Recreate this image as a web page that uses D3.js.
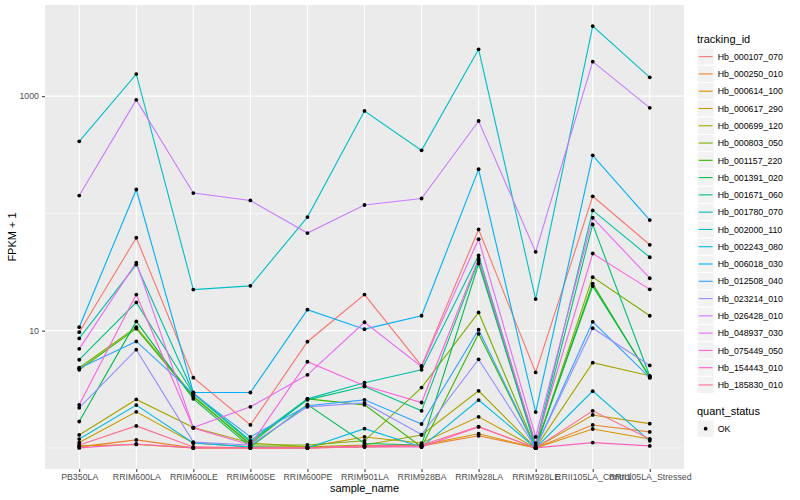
<!DOCTYPE html>
<html>
<head>
<meta charset="utf-8">
<script src="https://cdn.jsdelivr.net/npm/d3@7"></script>
<style>
  body { margin: 0; background: #fff; }
  text { font-family: "Liberation Sans", Arial, sans-serif; }
</style>
</head>
<body>
<div id="chart"></div>
<script>
// categories on the x axis
const samples = ["PB350LA", "RRIM600LA", "RRIM600LE", "RRIM600SE", "RRIM600PE", "RRIM901LA",
  "RRIM928BA", "RRIM928LA", "RRIM928LE", "RRII105LA_Control", "RRII105LA_Stressed"];

// series names and ggplot hue colours
const trackingIds = ["Hb_000107_070", "Hb_000250_010", "Hb_000614_100", "Hb_000617_290", "Hb_000699_120",
  "Hb_000803_050", "Hb_001157_220", "Hb_001391_020", "Hb_001671_060", "Hb_001780_070",
  "Hb_002000_110", "Hb_002243_080", "Hb_006018_030", "Hb_012508_040", "Hb_023214_010",
  "Hb_026428_010", "Hb_048937_030", "Hb_075449_050", "Hb_154443_010", "Hb_185830_010"];
const colors = ["#F8766D", "#EA8331", "#D89000", "#C09B00", "#A3A500", "#7CAE00", "#39B600", "#00BB4E",
  "#00BF7D", "#00C1A3", "#00BFC4", "#00BAE0", "#00B0F6", "#35A2FF", "#9590FF", "#C77CFF",
  "#E76BF3", "#FA62DB", "#FF62BC", "#FF6C91"];

// FPKM + 1 per sample, one array per gene
const hb000107 = [9.7, 62, 3.97, 1.57, 8.05, 20.3, 5.0, 73, 4.4, 140, 54];
const hb000250 = [1.02, 1.17, 1.0, 1.0, 1.0, 1.02, 1.04, 1.27, 1.0, 1.57, 1.37];
const hb000614 = [1.04, 1.07, 1.0, 1.0, 1.0, 1.04, 1.06, 1.32, 1.0, 1.45, 1.19];
const hb000617 = [1.11, 2.03, 1.10, 1.02, 1.02, 1.24, 1.10, 1.84, 1.0, 1.91, 1.61];
const hb000699 = [1.29, 2.59, 1.49, 1.10, 1.02, 1.06, 1.29, 3.07, 1.0, 5.33, 4.12];
const hb000803 = [4.83, 10.7, 2.78, 1.06, 1.06, 1.15, 3.27, 14.3, 1.0, 28.6, 13.4];
const hb001157 = [4.64, 10.4, 2.73, 1.08, 2.62, 2.33, 1.02, 9.4, 1.0, 25.2, 3.97];
const hb001391 = [1.68, 12.0, 2.62, 1.02, 2.34, 1.09, 1.06, 37.4, 1.02, 24.0, 4.05];
const hb001671 = [5.65, 17.4, 2.90, 1.12, 2.57, 3.34, 2.07, 39.6, 1.0, 80.6, 4.08];
const hb001780 = [8.59, 36.6, 2.95, 1.15, 2.62, 3.60, 4.64, 43.8, 1.06, 106, 42.3];
const hb002000 = [412, 1542, 22.4, 24.1, 93, 748, 345, 2510, 18.6, 3960, 1447];
const hb002243 = [1.19, 2.32, 1.10, 1.02, 1.0, 1.46, 1.02, 2.56, 1.0, 3.05, 1.15];
const hb006018 = [10.7, 160, 2.97, 2.97, 15.1, 10.3, 13.4, 238, 2.02, 313, 87.7];
const hb012508 = [4.78, 8.1, 2.90, 1.24, 2.29, 2.57, 1.60, 10.2, 1.0, 11.9, 3.97];
const hb023214 = [2.20, 6.88, 1.12, 1.06, 2.24, 2.42, 1.30, 5.69, 1.0, 10.5, 5.05];
const hb026428 = [142, 930, 149, 129, 68, 118, 134, 614, 47, 1970, 795];
const hb048937 = [7.0, 38.1, 1.49, 2.24, 4.2, 11.8, 4.93, 60.3, 1.24, 91.8, 28.0];
const hb075449 = [2.33, 20.3, 1.48, 1.06, 5.43, 3.39, 2.44, 41.2, 1.10, 45.5, 22.5];
const hb154443 = [1.0, 1.08, 1.0, 1.0, 1.0, 1.02, 1.02, 1.51, 1.0, 1.11, 1.04];
const hb185830 = [1.06, 1.54, 1.02, 1.0, 1.0, 1.04, 1.06, 1.52, 1.0, 2.07, 1.19];

const seriesValues = [hb000107, hb000250, hb000614, hb000617, hb000699, hb000803, hb001157,
  hb001391, hb001671, hb001780, hb002000, hb002243, hb006018, hb012508, hb023214, hb026428,
  hb048937, hb075449, hb154443, hb185830];

// axis ticks
const yMajor = [10, 1000];
const yMinor = [1, 100];

// panel box
const panel = { left: 45, right: 684, top: 5, bottom: 469 };

const series = trackingIds.map((id, i) => ({
  id: id,
  color: colors[i],
  values: samples.map((s, j) => ({ sample: s, value: seriesValues[i][j] }))
}));

const svg = d3.select("#chart").append("svg")
  .attr("width", 800)
  .attr("height", 500);

svg.append("rect").attr("width", 800).attr("height", 500).attr("fill", "#fff");

// scales (ggplot style expansion: 0.6 steps on discrete x, 5% on log y)
const xScale = d3.scalePoint().domain(samples).range([panel.left, panel.right]).padding(0.6);
const logExt = d3.extent(seriesValues.flat(), (d) => Math.log10(d));
const pad = (logExt[1] - logExt[0]) * 0.05;
const yScale = d3.scaleLog()
  .domain([Math.pow(10, logExt[0] - pad), Math.pow(10, logExt[1] + pad)])
  .range([panel.bottom, panel.top]);

// panel background
svg.append("rect")
  .attr("x", panel.left).attr("y", panel.top)
  .attr("width", panel.right - panel.left).attr("height", panel.bottom - panel.top)
  .attr("fill", "#EBEBEB");

// gridlines
svg.selectAll(".yMinor").data(yMinor).join("line")
  .attr("x1", panel.left).attr("x2", panel.right)
  .attr("y1", (d) => yScale(d)).attr("y2", (d) => yScale(d))
  .attr("stroke", "#fff").attr("stroke-width", 0.55);
svg.selectAll(".yMajor").data(yMajor).join("line")
  .attr("x1", panel.left).attr("x2", panel.right)
  .attr("y1", (d) => yScale(d)).attr("y2", (d) => yScale(d))
  .attr("stroke", "#fff").attr("stroke-width", 1.1);
svg.selectAll(".xMajor").data(samples).join("line")
  .attr("x1", (d) => xScale(d)).attr("x2", (d) => xScale(d))
  .attr("y1", panel.top).attr("y2", panel.bottom)
  .attr("stroke", "#fff").attr("stroke-width", 1.1);

// lines
const line = d3.line()
  .x((d) => xScale(d.sample))
  .y((d) => yScale(d.value));

svg.append("g").selectAll("path").data(series).join("path")
  .attr("fill", "none")
  .attr("stroke", (d) => d.color)
  .attr("stroke-width", 1.1)
  .attr("d", (d) => line(d.values));

// points
svg.append("g").selectAll("circle").data(series.flatMap((d) => d.values)).join("circle")
  .attr("cx", (d) => xScale(d.sample))
  .attr("cy", (d) => yScale(d.value))
  .attr("r", 1.9)
  .attr("fill", "#000");

// y-axis
const yAxis = d3.axisLeft(yScale).tickValues(yMajor).tickFormat(d3.format("d")).tickSize(3).tickPadding(3);
svg.append("g")
  .attr("transform", `translate(${panel.left}, 0)`)
  .call(yAxis)
  .call((g) => g.select(".domain").remove())
  .call((g) => g.selectAll(".tick line").attr("stroke", "#333"))
  .selectAll(".tick text")
  .style("font-size", "8.8px")
  .style("font-family", "'Liberation Sans', Arial, sans-serif")
  .attr("fill", "#4D4D4D");

// x-axis
const xAxis = d3.axisBottom(xScale).tickSize(3).tickPadding(2);
svg.append("g")
  .attr("transform", `translate(0, ${panel.bottom})`)
  .call(xAxis)
  .call((g) => g.select(".domain").remove())
  .call((g) => g.selectAll(".tick line").attr("stroke", "#333"))
  .selectAll(".tick text")
  .style("font-size", "8.8px")
  .style("font-family", "'Liberation Sans', Arial, sans-serif")
  .attr("fill", "#4D4D4D");

// axis titles
svg.append("text")
  .attr("x", (panel.left + panel.right) / 2)
  .attr("y", 492)
  .attr("text-anchor", "middle")
  .style("font-size", "11px")
  .text("sample_name");

svg.append("text")
  .attr("transform", `translate(16, ${(panel.top + panel.bottom) / 2}) rotate(-90)`)
  .attr("text-anchor", "middle")
  .style("font-size", "11px")
  .text("FPKM + 1");

// legend: tracking_id
const legend = svg.append("g").attr("transform", "translate(697, 0)");
legend.append("text").attr("x", 0).attr("y", 43).style("font-size", "11px").text("tracking_id");

const keyH = 17.28;
const keys = legend.selectAll(".key").data(series).join("g")
  .attr("transform", (d, i) => `translate(0, ${48 + i * keyH})`);
keys.append("rect")
  .attr("width", keyH).attr("height", keyH)
  .attr("fill", "#F2F2F2").attr("stroke", "#fff").attr("stroke-width", 1);
keys.append("line")
  .attr("x1", 1.7).attr("x2", keyH - 1.7)
  .attr("y1", keyH / 2).attr("y2", keyH / 2)
  .attr("stroke", (d) => d.color).attr("stroke-width", 1.1);
keys.append("text")
  .attr("x", keyH + 3.5).attr("y", keyH / 2 + 3.2)
  .style("font-size", "8.8px")
  .text((d) => d.id);

// legend: quant_status
legend.append("text").attr("x", 0).attr("y", 415).style("font-size", "11px").text("quant_status");
const okKey = legend.append("g").attr("transform", "translate(0, 420)");
okKey.append("rect")
  .attr("width", keyH).attr("height", keyH)
  .attr("fill", "#F2F2F2").attr("stroke", "#fff");
okKey.append("circle").attr("cx", keyH / 2).attr("cy", keyH / 2).attr("r", 1.9).attr("fill", "#000");
okKey.append("text")
  .attr("x", keyH + 3.5).attr("y", keyH / 2 + 3.2)
  .style("font-size", "8.8px")
  .text("OK");
</script>
</body>
</html>
